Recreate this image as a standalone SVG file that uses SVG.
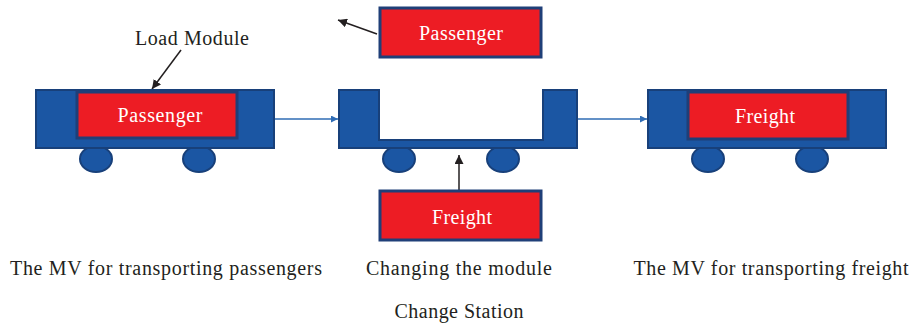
<svg xmlns="http://www.w3.org/2000/svg" width="912" height="327" viewBox="0 0 912 327">
<style>
.body{fill:#1B56A3;stroke:#18407A;stroke-width:2}
.load{fill:#ED1C24;stroke:#1F3F78;stroke-width:3}
.wheel{fill:#1B56A3;stroke:#18407A;stroke-width:2}
.lt{font-family:"Liberation Serif",serif;font-size:20px;fill:#FFFFFF;text-anchor:middle}
.cap{font-family:"Liberation Serif",serif;font-size:20px;fill:#231F20;text-anchor:middle}
.blue{stroke:#2F6CB5;stroke-width:1.3;fill:none}
.blk{stroke:#231F20;stroke-width:1.5;fill:none}
</style>
<defs>
<marker id="ab" viewBox="0 0 10 10" refX="10" refY="5" markerWidth="7" markerHeight="7" orient="auto" markerUnits="userSpaceOnUse"><path d="M0,0L10,5L0,10z" fill="#2F6CB5"/></marker>
<marker id="ak" viewBox="0 0 10 10" refX="10" refY="5" markerWidth="9" markerHeight="9" orient="auto" markerUnits="userSpaceOnUse"><path d="M0,0L10,5L0,10z" fill="#231F20"/></marker>
</defs>
<g id="connectors">
<line class="blue" x1="274" y1="119" x2="338" y2="119" marker-end="url(#ab)"/>
<line class="blue" x1="577" y1="119" x2="647" y2="119" marker-end="url(#ab)"/>
<line class="blk" x1="181" y1="50" x2="152" y2="89" marker-end="url(#ak)"/>
<line class="blk" x1="377" y1="34" x2="338" y2="20" marker-end="url(#ak)"/>
<line class="blk" x1="459" y1="192" x2="459" y2="155" marker-end="url(#ak)"/>
</g>
<g id="vehicle-passenger">
<ellipse class="wheel" cx="96" cy="159" rx="16" ry="13"/>
<ellipse class="wheel" cx="199" cy="159" rx="16" ry="13"/>
<rect class="body" x="36" y="90" width="238" height="58"/>
<rect class="load" x="77" y="92" width="160" height="46"/>
<text class="lt" x="160" y="122" textLength="85">Passenger</text>
</g>
<g id="label-load-module"><text class="cap" x="192" y="45" textLength="114">Load Module</text></g>
<g id="vehicle-change">
<ellipse class="wheel" cx="399" cy="159" rx="16" ry="13"/>
<ellipse class="wheel" cx="503" cy="159" rx="16" ry="13"/>
<path class="body" d="M339,90H379V140H543V90H577V148H339Z"/>
</g>
<g id="module-passenger">
<rect class="load" x="380" y="8" width="161" height="49"/>
<text class="lt" x="461" y="40" textLength="84">Passenger</text>
</g>
<g id="module-freight">
<rect class="load" x="380" y="191" width="161" height="49"/>
<text class="lt" x="462" y="224" textLength="60">Freight</text>
</g>
<g id="vehicle-freight">
<ellipse class="wheel" cx="708" cy="159" rx="16" ry="13"/>
<ellipse class="wheel" cx="812" cy="159" rx="16" ry="13"/>
<rect class="body" x="648" y="90" width="238" height="58"/>
<rect class="load" x="688" y="92" width="160" height="47"/>
<text class="lt" x="765" y="123" textLength="60">Freight</text>
</g>
<g id="captions">
<text class="cap" x="166" y="275" textLength="312">The MV for transporting passengers</text>
<text class="cap" x="459" y="275" textLength="186">Changing the module</text>
<text class="cap" x="771" y="275" textLength="275">The MV for transporting freight</text>
<text class="cap" x="459" y="318" textLength="129">Change Station</text>
</g>
</svg>
